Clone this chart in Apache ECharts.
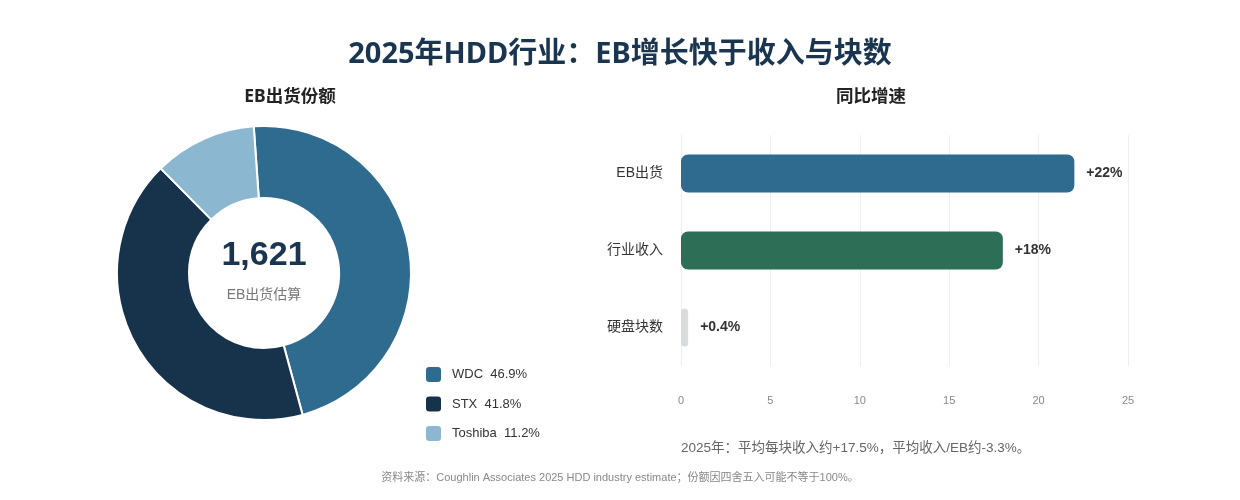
<!DOCTYPE html>
<html style="height: 100%">
<head>
    <meta charset="utf-8">
</head>
<body style="height: 100%; margin: 0; background: #fff">
    <div id="container" style="width: 1240px; height: 500px"></div>
    <script type="text/javascript" src="https://cdn.jsdelivr.net/npm/echarts@6/dist/echarts.min.js"></script>
    <script type="text/javascript">
        // 份额数据（EB）
        var vendors = ['WDC', 'STX', 'Toshiba'];
        var vendorEB = [760, 678, 183];
        var vendorShare = [46.9, 41.8, 11.2];
        var vendorColors = ['#2e6b8f', '#17324b', '#8bb8d0'];
        var totalEB = '1,621';

        // 同比增速
        var growthCats = ['EB出货', '行业收入', '硬盘块数'];
        var growthVals = [22, 18, 0.4];
        var growthLabels = ['+22%', '+18%', '+0.4%'];
        var growthColors = ['#2e6b8f', '#2d6e57', '#d9dcdf'];
        var xTicks = [0, 5, 10, 15, 20, 25];

        var font = '"Liberation Sans", "Noto Sans CJK SC", sans-serif';
        var headFont = '"Noto Sans", "Noto Sans CJK SC", sans-serif';
        var dom = document.getElementById('container');
        var myChart = echarts.init(dom);

        var pieData = vendors.map(function (v, i) {
            return { name: v, value: vendorEB[i], itemStyle: { color: vendorColors[i] } };
        });
        var barData = growthVals.map(function (v, i) {
            return { value: v, itemStyle: { color: growthColors[i] }, label: { formatter: growthLabels[i] } };
        });

        var option = {
            textStyle: { fontFamily: font },
            title: [
                {
                    text: '2025年HDD行业：EB增长快于收入与块数',
                    left: 'center', top: 40, padding: 0,
                    textStyle: { fontSize: 29, fontWeight: 'bold', color: '#1a3550', fontFamily: headFont }
                },
                {
                    text: 'EB出货份额',
                    left: 290, top: 88, textAlign: 'center', padding: 0,
                    textStyle: { fontSize: 17.5, fontWeight: 'bold', color: '#222', fontFamily: headFont }
                },
                {
                    text: '同比增速',
                    left: 871, top: 88, textAlign: 'center', padding: 0,
                    textStyle: { fontSize: 17.5, fontWeight: 'bold', color: '#222', fontFamily: headFont }
                },
                {
                    text: totalEB,
                    left: 264, top: 239, textAlign: 'center', padding: 0,
                    textStyle: { fontSize: 34, fontWeight: 'bold', color: '#1a3550', fontFamily: font }
                },
                {
                    text: 'EB出货估算',
                    left: 264, top: 288, textAlign: 'center', padding: 0,
                    textStyle: { fontSize: 14, fontWeight: 'normal', color: '#777', fontFamily: font }
                },
                {
                    text: '2025年：平均每块收入约+17.5%，平均收入/EB约-3.3%。',
                    left: 681, top: 442, padding: 0,
                    textStyle: { fontSize: 13.5, fontWeight: 'normal', color: '#666', fontFamily: font }
                },
                {
                    text: '资料来源：Coughlin Associates 2025 HDD industry estimate；份额因四舍五入可能不等于100%。',
                    left: 'center', top: 472, padding: 0,
                    textStyle: { fontSize: 11, fontWeight: 'normal', color: '#888', fontFamily: font }
                }
            ],
            legend: {
                orient: 'vertical',
                left: 424, top: 365, padding: 0,
                itemWidth: 17, itemHeight: 17, itemGap: 10.5,
                icon: 'roundRect',
                data: vendors,
                formatter: function (name) {
                    return name + '  ' + vendorShare[vendors.indexOf(name)].toFixed(1) + '%';
                },
                textStyle: { fontSize: 13, color: '#333', fontFamily: font, padding: [0, 0, 0, 5] }
            },
            grid: { left: 681, right: 112, top: 135, bottom: 134 },
            xAxis: {
                type: 'value',
                min: 0, max: 25, interval: 5,
                axisLine: { show: false },
                axisTick: { show: false },
                axisLabel: { color: '#888', fontSize: 11, margin: 29, fontFamily: font },
                splitLine: { lineStyle: { color: '#eeeeee' } }
            },
            yAxis: {
                type: 'category',
                inverse: true,
                data: growthCats,
                axisLine: { show: false },
                axisTick: { show: false },
                axisLabel: { color: '#333', fontSize: 14, margin: 18, fontFamily: font }
            },
            series: [
                {
                    type: 'pie',
                    radius: [75, 147],
                    center: [264, 273],
                    startAngle: 94,
                    label: { show: false },
                    labelLine: { show: false },
                    itemStyle: { borderColor: '#fff', borderWidth: 2 },
                    data: pieData
                },
                {
                    type: 'bar',
                    barWidth: 38,
                    itemStyle: { borderRadius: 7 },
                    label: {
                        show: true, position: 'right', distance: 12,
                        fontSize: 14, fontWeight: 'bold', color: '#333', fontFamily: font
                    },
                    data: barData
                }
            ]
        };

        myChart.setOption(option, true);
    </script>
</body>
</html>
